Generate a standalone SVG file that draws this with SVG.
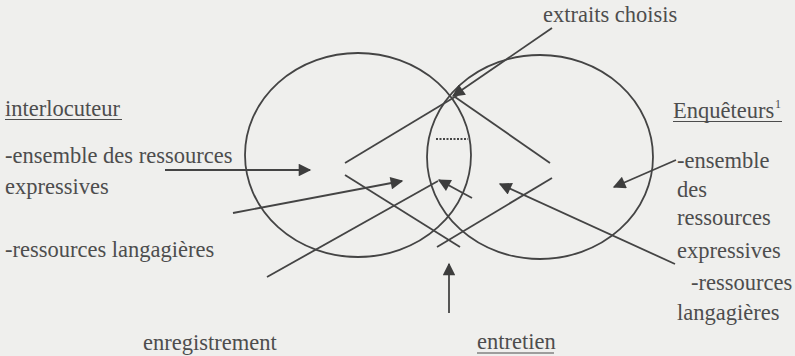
<svg xmlns="http://www.w3.org/2000/svg" width="795" height="356" viewBox="0 0 795 356">
<style>
.t{font-family:"Liberation Serif","Times New Roman",serif;font-size:22.5px;fill:#4d4d4d}
.sup{font-family:"Liberation Serif","Times New Roman",serif;font-size:12px;fill:#4d4d4d}
.c{fill:none;stroke:#444;stroke-width:1.8}
.l{fill:none;stroke:#444;stroke-width:1.8}
.a{fill:none;stroke:#444;stroke-width:1.8;marker-end:url(#ah)}
.u{stroke:#4d4d4d;stroke-width:1.2}
</style>
<defs>
<marker id="ah" viewBox="0 0 10 10" refX="9" refY="5" markerWidth="8" markerHeight="7" markerUnits="strokeWidth" orient="auto">
<path d="M0,0 L10,5 L0,10 z" fill="#3d3d3d"/>
</marker>
</defs>
<rect width="795" height="356" fill="#efefed"/>
<g id="circle-interlocuteur"><ellipse class="c" cx="358" cy="155" rx="113" ry="102"/></g>
<g id="circle-enqueteurs"><ellipse class="c" cx="540" cy="157" rx="113" ry="102"/></g>
<g id="connectors">
<line class="a" x1="552" y1="28" x2="453" y2="96"/>
<line class="l" x1="345" y1="163" x2="458" y2="95"/>
<line class="l" x1="455" y1="97" x2="550" y2="163"/>
<line class="l" x1="436" y1="139" x2="468" y2="139" stroke-dasharray="2 1.5" stroke-width="1.2"/>
<line class="a" x1="165" y1="170" x2="310" y2="170"/>
<line class="a" x1="233" y1="213" x2="402" y2="181"/>
<line class="l" x1="267" y1="277" x2="438" y2="181"/>
<line class="a" x1="472" y1="198" x2="439" y2="180"/>
<line class="a" x1="675" y1="264" x2="500" y2="184"/>
<line class="a" x1="676" y1="160" x2="614" y2="187"/>
<line class="a" x1="449" y1="313" x2="449" y2="264"/>
<line class="l" x1="345" y1="175" x2="460" y2="247"/>
<line class="l" x1="437" y1="247" x2="552" y2="178"/>
</g>
<g id="interlocuteur">
<text class="t" x="5" y="116">interlocuteur</text>
<line class="u" x1="5" y1="119.5" x2="122" y2="119.5"/>
<text class="t" x="5" y="163">-ensemble des ressources</text>
<text class="t" x="5" y="194">expressives</text>
<text class="t" x="5" y="257">-ressources langagières</text>
</g>
<g id="extraits"><text class="t" x="543" y="22">extraits choisis</text></g>
<g id="enqueteurs">
<text class="t" x="673" y="118">Enquêteurs</text><text class="sup" x="775" y="108">1</text>
<line class="u" x1="673" y1="121.5" x2="782" y2="121.5"/>
<text class="t" x="677" y="168">-ensemble</text>
<text class="t" x="677" y="197">des</text>
<text class="t" x="677" y="225">ressources</text>
<text class="t" x="677" y="258">expressives</text>
<text class="t" x="691" y="290">-ressources</text>
<text class="t" x="677" y="320">langagières</text>
</g>
<g id="enregistrement"><text class="t" x="143" y="350">enregistrement</text></g>
<g id="entretien">
<text class="t" x="477" y="349">entretien</text>
<line class="u" x1="477" y1="353" x2="554" y2="353"/>
</g>
</svg>
